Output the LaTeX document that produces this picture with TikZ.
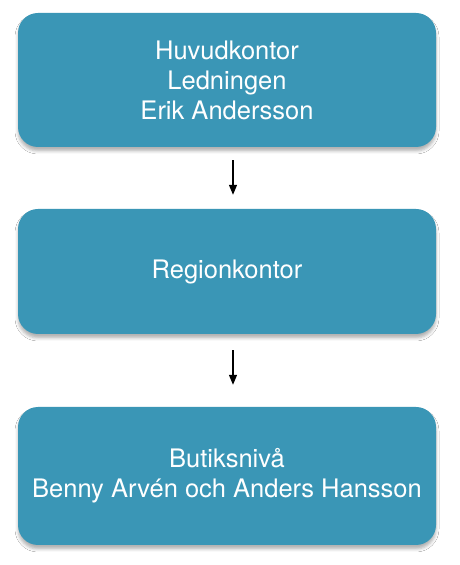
\documentclass[tikz,border=0pt]{standalone}
\usepackage{fontspec}
\setmainfont{TeX Gyre Heros}
\usetikzlibrary{arrows.meta,shadows.blur}
\definecolor{boxteal}{RGB}{58,150,182}
\tikzset{
  orgbox/.style={rounded corners=20pt, fill=boxteal, draw=none,
    blur shadow={shadow xshift=0pt, shadow yshift=-4pt, shadow blur radius=3pt, shadow blur extra rounding=2pt, shadow opacity=30},
    text=white, align=center, font=\fontsize{25.5}{30}\selectfont,
    minimum width=418pt, inner sep=0pt},
  arr/.style={line width=1.3pt, -{Triangle[width=8pt,length=10pt]}}
}
\begin{document}
\begin{tikzpicture}[x=1pt,y=1pt]
\useasboundingbox (0,0) rectangle (459,565);
\fill[white] (0,0) rectangle (459,565);
\node[orgbox, minimum height=134pt] (b1) at (227,485) {Huvudkontor\\Ledningen\\Erik Andersson};
\node[orgbox, minimum height=125pt] (b2) at (227,293.5) {Regionkontor};
\node[orgbox, minimum height=138pt] (b3) at (227,89) {Butiksnivå\\Benny Arvén och Anders Hansson};
\draw[arr] ([xshift=6pt,yshift=-13pt]b1.south) -- ([xshift=6pt,yshift=14pt]b2.north);
\draw[arr] ([xshift=6pt,yshift=-16pt]b2.south) -- ([xshift=6pt,yshift=22pt]b3.north);
\end{tikzpicture}
\end{document}
